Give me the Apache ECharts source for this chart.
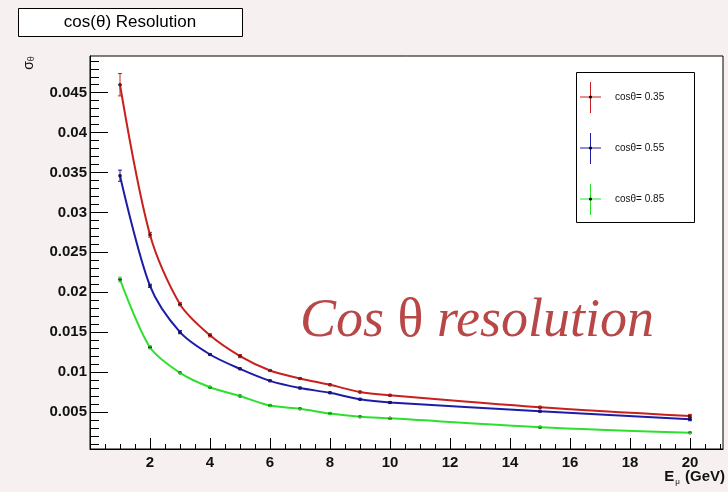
<!DOCTYPE html>
<html>
<head>
<meta charset="utf-8">
<script src="https://cdn.jsdelivr.net/npm/echarts@6/dist/echarts.min.js"></script>
<style>
html,body{margin:0;padding:0;background:#f6f0f0;}
#c{width:728px;height:492px;}
</style>
</head>
<body>
<div id="c"></div>
<script>
// ---- data ----
const energies = [1, 2, 3, 4, 5, 6, 7, 8, 9, 10, 15, 20];
const sigma035 = [0.0460, 0.0272, 0.0185, 0.0146, 0.0120, 0.0102, 0.0092, 0.0084, 0.0075, 0.0071, 0.0056, 0.0045];
const sigma055 = [0.0346, 0.0208, 0.0150, 0.0122, 0.0104, 0.0089, 0.0080, 0.0074, 0.0066, 0.0062, 0.0051, 0.0041];
const sigma085 = [0.0216, 0.0131, 0.0099, 0.0081, 0.0070, 0.0058, 0.0054, 0.0048, 0.0044, 0.0042, 0.0031, 0.0024];
const err035 = [0.0014, 0.0003, 0.0002, 0.0002, 0.0002, 0.0001, 0.0001, 0.0001, 0.0001, 0.0001, 0.0001, 0.0002];
const err055 = [0.0007, 0.0002, 0.0002, 0.0001, 0.0001, 0.0001, 0.0001, 0.0001, 0.0001, 0.0001, 0.0001, 0.0002];
const err085 = [0.0003, 0.0002, 0.0001, 0.0001, 0.0001, 0.0001, 0.0001, 0.0001, 0.0001, 0.0001, 0.0001, 0.0001];
const seriesNames = ['cosθ= 0.35', 'cosθ= 0.55', 'cosθ= 0.85'];
const yTickValues = [0.005, 0.01, 0.015, 0.02, 0.025, 0.03, 0.035, 0.04, 0.045];
const yTickLabels = ['0.005', '0.01', '0.015', '0.02', '0.025', '0.03', '0.035', '0.04', '0.045'];
const xTickValues = [2, 4, 6, 8, 10, 12, 14, 16, 18, 20];
const xTickLabels = ['2', '4', '6', '8', '10', '12', '14', '16', '18', '20'];

// ---- styles ----
const colors = ['#c8201e', '#1c1ca8', '#2ee02e'];
const Y_MIN = 0.00036, Y_MAX = 0.0496, X_MIN = 0, X_MAX = 21.1;
const yMinor = []; for (let i = 1; i <= 49; i++) yMinor.push(i / 1000);
const xMinor = []; for (let i = 1; i <= 42; i++) xMinor.push(i / 2);

const allVals = [sigma035, sigma055, sigma085];
const allErrs = [err035, err055, err085];

const series = [];
allVals.forEach((vals, k) => {
  series.push({
    name: seriesNames[k], type: 'line', smooth: 0.3,
    data: energies.map((e, i) => [e, vals[i]]),
    lineStyle: {color: colors[k], width: 2},
    itemStyle: {color: '#000'},
    symbol: 'circle', symbolSize: 3.5, showSymbol: true,
    z: 3, animation: false
  });
  series.push({
    type: 'custom', z: 4, animation: false,
    data: energies.map((e, i) => [e, vals[i], allErrs[k][i]]),
    renderItem: function (params, api) {
      const x = api.value(0), y = api.value(1), er = api.value(2);
      const t = api.coord([x, y + er]), b = api.coord([x, y - er]);
      const st = {stroke: colors[k], lineWidth: 1};
      return {type: 'group', children: [
        {type: 'line', shape: {x1: t[0], y1: t[1], x2: b[0], y2: b[1]}, style: st},
        {type: 'line', shape: {x1: t[0] - 2, y1: t[1], x2: t[0] + 2, y2: t[1]}, style: st},
        {type: 'line', shape: {x1: b[0] - 2, y1: b[1], x2: b[0] + 2, y2: b[1]}, style: st}
      ]};
    }
  });
});

const black = {color: '#000', width: 1};
const legendItems = [];
seriesNames.forEach((n, k) => {
  const cy = 97 + k * 51;
  legendItems.push(
    {type: 'line', shape: {x1: 580, y1: cy, x2: 601, y2: cy}, style: {stroke: colors[k], lineWidth: 1}, z: 10},
    {type: 'line', shape: {x1: 590.5, y1: cy - 15, x2: 590.5, y2: cy + 16}, style: {stroke: colors[k], lineWidth: 1}, z: 10},
    {type: 'circle', shape: {cx: 590.5, cy: cy, r: 1.6}, style: {fill: '#000'}, z: 11},
    {type: 'text', x: 615, y: cy, style: {text: n, fill: '#111', font: '10px "Liberation Sans", Arial, sans-serif', verticalAlign: 'middle'}, z: 10}
  );
});

const option = {
  backgroundColor: '#f6f0f0',
  animation: false,
  grid: {left: 90, top: 56, right: 5, bottom: 43, show: true, borderColor: '#000', borderWidth: 1, backgroundColor: '#ffffff', containLabel: false},
  xAxis: [{
    type: 'value', min: X_MIN, max: X_MAX, position: 'bottom',
    axisLine: {show: true, onZero: false, lineStyle: black},
    axisTick: {show: true, inside: true, length: 11, customValues: xTickValues, lineStyle: black},
    axisLabel: {show: true, customValues: xTickValues, formatter: v => xTickLabels[xTickValues.indexOf(v)] || '', margin: 6,
      fontSize: 15, fontWeight: 'bold', color: '#111', fontFamily: '"Liberation Sans", Arial, sans-serif'},
    splitLine: {show: false}
  }, {
    type: 'value', min: X_MIN, max: X_MAX, position: 'bottom',
    axisLine: {show: false},
    axisTick: {show: true, inside: true, length: 5, customValues: xMinor, lineStyle: black},
    axisLabel: {show: false}, splitLine: {show: false}
  }],
  yAxis: [{
    type: 'value', min: Y_MIN, max: Y_MAX, position: 'left',
    axisLine: {show: true, onZero: false, lineStyle: black},
    axisTick: {show: true, inside: true, length: 18, customValues: yTickValues, lineStyle: black},
    axisLabel: {show: true, customValues: yTickValues, formatter: v => yTickLabels[yTickValues.indexOf(v)] || '', margin: 3,
      fontSize: 15, fontWeight: 'bold', color: '#111', fontFamily: '"Liberation Sans", Arial, sans-serif'},
    splitLine: {show: false}
  }, {
    type: 'value', min: Y_MIN, max: Y_MAX, position: 'left',
    axisLine: {show: false},
    axisTick: {show: true, inside: true, length: 9, customValues: yMinor, lineStyle: black},
    axisLabel: {show: false}, splitLine: {show: false}
  }],
  series: series,
  graphic: [
    {type: 'rect', shape: {x: 18.5, y: 8.5, width: 224, height: 28}, style: {fill: '#fff', stroke: '#000', lineWidth: 1}, z: 10},
    {type: 'text', x: 130, y: 22.5, style: {text: 'cos(θ) Resolution', fill: '#000', font: '17px "Liberation Sans", Arial, sans-serif', align: 'center', verticalAlign: 'middle'}, z: 11},
    {type: 'text', x: 29, y: 63, rotation: Math.PI / 2,
      style: {text: '{s|σ}{b|θ}', align: 'center', verticalAlign: 'middle',
        rich: {s: {font: '14px "Liberation Sans", Arial, sans-serif', fill: '#111'}, b: {font: '9px "Liberation Sans", Arial, sans-serif', fill: '#111', padding: [6, 0, 0, 0]}}}, z: 10},
    {type: 'text', x: 725, y: 477, style: {text: 'E{u|μ} (GeV)', align: 'right', verticalAlign: 'middle', fill: '#111',
      font: 'bold 15px "Liberation Sans", Arial, sans-serif',
      rich: {u: {font: '8px "Liberation Sans", Arial, sans-serif', fill: '#111', padding: [10, 1, 0, 1]}}}, z: 10},
    {type: 'rect', shape: {x: 576.5, y: 72.5, width: 118, height: 150}, style: {fill: '#fff', stroke: '#000', lineWidth: 1}, z: 9},
    ...legendItems,
    {type: 'text', x: 300, y: 322, style: {text: '{a|Cos }{b|θ}{a| resolution}', verticalAlign: 'middle',
      rich: {a: {font: 'italic 54px "Liberation Serif", "DejaVu Serif", serif', fill: '#b84848'},
             b: {font: '54px "Liberation Serif", "DejaVu Serif", serif', fill: '#b84848'}}}, z: 12}
  ]
};

const chart = echarts.init(document.getElementById('c'), null, {renderer: 'canvas'});
chart.setOption(option);
</script>
</body>
</html>
